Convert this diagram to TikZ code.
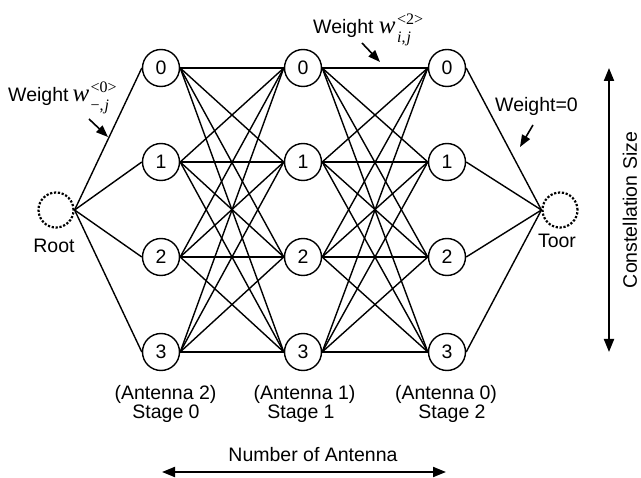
\documentclass[tikz,border=0pt]{standalone}
\usepackage{fontspec}
\setmainfont{Liberation Sans}
\newfontfamily\symserif{Liberation Serif}
\usetikzlibrary{arrows.meta}
% weight symbol with stacked upper and lower indices
\newcommand{\wsym}[2]{{\symserif\fontsize{25}{28}\selectfont\itshape w}\kern1.5pt%
  {\symserif\fontsize{16}{18}\selectfont
  \rlap{\raisebox{9.5pt}{#1}}%
  \raisebox{-9pt}{#2}}}
\begin{document}
\begin{tikzpicture}[x=1pt,y=-1pt,
  state/.style={circle,draw,line width=1.4pt,minimum size=37pt,inner sep=0pt,
                font=\fontsize{19.5}{22}\selectfont},
  term/.style={circle,draw,line width=2.2pt,dash pattern=on 2.2pt off 1.7pt,
               minimum size=35pt,inner sep=0pt},
  link/.style={line width=1.4pt},
  lbl/.style={inner sep=0pt,font=\fontsize{19.5}{22}\selectfont},
  pointer/.style={line width=1.6pt,-{Triangle[length=12pt,width=9pt]}},
  span/.style={line width=2pt,{Triangle[length=13pt,width=10pt]}-{Triangle[length=13pt,width=10pt]}}]

\useasboundingbox (0,0) rectangle (641,478);

% trellis states: stage s, symbol r
\foreach \s/\x in {0/161,1/303,2/447}
  \foreach \r/\y in {0/68,1/162,2/257,3/352}
    \node[state] (n\s\r) at (\x,\y) {\r};

% terminal states
\node[term] (root) at (56,210) {};
\node[term] (toor) at (560,210) {};

% fully connected transitions between stages
\foreach \a/\b in {0/1,1/2}
  \foreach \i in {0,...,3}
    \foreach \j in {0,...,3}
      \draw[link] (n\a\i.east) -- (n\b\j.west);

\foreach \i in {0,...,3} {
  \draw[link] (root.east) -- (n0\i.west);
  \draw[link] (n2\i.east) -- (toor.west);
}

% labels
\node[lbl,anchor=base] (rootlbl) at (54,253) {Root};
\node[lbl,anchor=base] (toorlbl) at (557,248) {Toor};

\node[lbl,anchor=base west] (wfirst) at (8,102)
  {Weight\kern4pt\wsym{<0>}{−,\kern1pt\textit{j}}};
\node[lbl,anchor=base west] (wmid) at (313,34)
  {Weight \wsym{<2>}{\textit{i},\kern1pt\textit{j}}};
\node[lbl,anchor=base west] (wlast) at (495,112) {Weight=0};

\coordinate (pa1) at (89,119);  \coordinate (pa2) at (108,137);
\coordinate (pb1) at (362,43);  \coordinate (pb2) at (380,62);
\coordinate (pc1) at (533,125); \coordinate (pc2) at (520,147);
\draw[pointer] (pa1) -- (pa2);
\draw[pointer] (pb1) -- (pb2);
\draw[pointer] (pc1) -- (pc2);

\node[lbl,anchor=base] (ant2) at (165.5,400) {(Antenna 2)};
\node[lbl,anchor=base] (stg0) at (166,419) {Stage 0};
\node[lbl,anchor=base] (ant1) at (304.5,400) {(Antenna 1)};
\node[lbl,anchor=base] (stg1) at (301,419) {Stage 1};
\node[lbl,anchor=base] (ant0) at (446,400) {(Antenna 0)};
\node[lbl,anchor=base] (stg2) at (452,419) {Stage 2};

% axis arrows
\coordinate (vtop) at (609,68);  \coordinate (vbot) at (609,352);
\draw[span] (vtop) -- (vbot);
\node[lbl,rotate=90] (csize) at (630,210) {Constellation Size};

\coordinate (hleft) at (162,472); \coordinate (hright) at (446,472);
\draw[span] (hleft) -- (hright);
\node[lbl,anchor=base] (nant) at (313,462) {Number of Antenna};
\end{tikzpicture}
\end{document}
